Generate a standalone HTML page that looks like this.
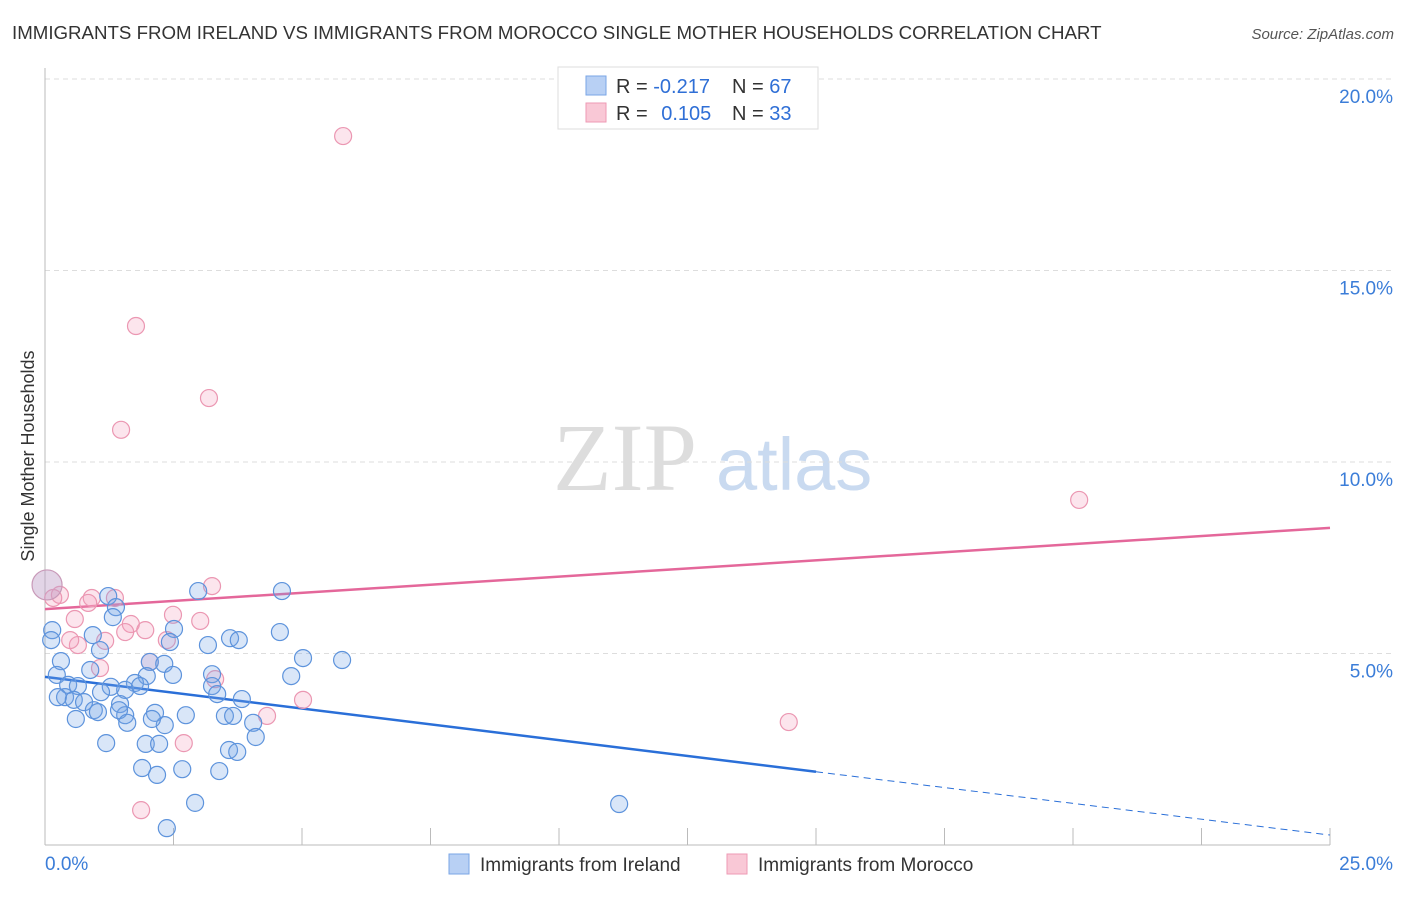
<!DOCTYPE html>
<html><head><meta charset="utf-8"><style>
body{margin:0;background:#fff;font-family:"Liberation Sans",sans-serif;}
svg text{font-family:"Liberation Sans",sans-serif;}
</style></head><body>
<svg width="1406" height="892" viewBox="0 0 1406 892" xmlns="http://www.w3.org/2000/svg">
<text x="12" y="39" font-size="18.7" fill="#333">IMMIGRANTS FROM IRELAND VS IMMIGRANTS FROM MOROCCO SINGLE MOTHER HOUSEHOLDS CORRELATION CHART</text>
<text x="1394" y="39" font-size="15" fill="#555" font-style="italic" text-anchor="end">Source: ZipAtlas.com</text>
<g>
<text x="553" y="490" font-size="96" fill="#ddd" style="font-family:'Liberation Serif',serif">ZIP</text>
<text x="716" y="490" font-size="74" fill="#c9daf0">atlas</text>
</g>
<g id="grid"></g>
<g id="axes"></g>
<g id="lines"></g>
<g id="pts"></g>
<text transform="translate(34,456) rotate(-90)" font-size="18" fill="#333" text-anchor="middle">Single Mother Households</text>
<g>
<rect x="558" y="67" width="260" height="62" fill="#fff" stroke="#ddd"/>
<rect x="586" y="76" width="20" height="19" fill="#b8d0f4" stroke="#7aa6e6"/>
<rect x="586" y="103" width="20" height="19" fill="#f9c8d6" stroke="#ee9ab4"/>
<text x="616" y="93" font-size="20" fill="#333">R = <tspan fill="#2f6fd6">-0.217</tspan></text>
<text x="732" y="93" font-size="20" fill="#333">N = <tspan fill="#2f6fd6">67</tspan></text>
<text x="616" y="120" font-size="20" fill="#333">R = <tspan fill="#2f6fd6" dx="8">0.105</tspan></text>
<text x="732" y="120" font-size="20" fill="#333">N = <tspan fill="#2f6fd6">33</tspan></text>
</g>
<g>
<rect x="449" y="854" width="20" height="20" fill="#b8d0f4" stroke="#7aa6e6"/>
<text x="480" y="871" font-size="19" fill="#333">Immigrants from Ireland</text>
<rect x="727" y="854" width="20" height="20" fill="#f9c8d6" stroke="#ee9ab4"/>
<text x="758" y="871" font-size="19" fill="#333">Immigrants from Morocco</text>
</g>
</svg>
<script>
const xTickLabels=["0.0%","25.0%"];
const yTicks=[5,10,15,20];
const yTickLabels=["5.0%","10.0%","15.0%","20.0%"];
const irelandX=[1.23,2.98,4.61,1.38,1.32,0.14,0.93,0.12,2.51,3.60,3.77,4.57,3.17,2.43,0.31,1.07,5.02,5.78,2.04,2.32,0.88,2.49,0.23,1.98,1.75,1.28,4.79,3.25,0.45,0.64,0.39,0.25,0.56,0.76,1.09,1.56,1.85,3.25,3.50,3.83,3.35,0.95,1.03,1.46,1.56,1.44,2.14,2.33,2.74,0.60,1.19,2.08,1.60,1.96,2.22,3.66,4.05,4.10,1.89,2.18,2.67,3.39,3.58,3.74,2.92,2.37,11.17];
const irelandY=[6.50,6.63,6.63,6.21,5.95,5.61,5.48,5.35,5.64,5.40,5.35,5.56,5.22,5.30,4.80,5.09,4.88,4.83,4.78,4.73,4.57,4.44,4.44,4.41,4.23,4.13,4.41,4.46,4.18,4.15,3.86,3.86,3.79,3.73,3.99,4.05,4.15,4.15,3.37,3.81,3.94,3.52,3.47,3.68,3.39,3.52,3.45,3.13,3.39,3.29,2.66,3.29,3.19,2.64,2.64,3.37,3.19,2.82,2.01,1.83,1.98,1.93,2.48,2.43,1.10,0.44,1.07];
const moroccoX=[5.80,1.77,3.19,1.48,20.12,3.25,0.91,1.36,0.29,0.16,0.84,0.58,2.49,3.02,1.67,1.95,1.56,2.37,1.17,0.64,0.49,1.07,2.04,3.31,5.02,4.32,14.47,2.70,1.87];
const moroccoY=[18.51,13.55,11.67,10.84,9.01,6.76,6.45,6.45,6.53,6.45,6.32,5.90,6.01,5.85,5.77,5.61,5.56,5.35,5.33,5.22,5.35,4.62,4.78,4.33,3.79,3.37,3.21,2.66,0.91];
const irelandTrend=[4.39,0.26];
const moroccoTrend=[6.16,8.28];
const NS="http://www.w3.org/2000/svg";
const X0=45,X1=1330,Y0=845,PXPER5=191.5;
const sx=v=>X0+(v/25)*(X1-X0);
const sy=v=>Y0-(v/5)*PXPER5;
function mk(tag,attrs,parent){const e=document.createElementNS(NS,tag);for(const k in attrs)e.setAttribute(k,attrs[k]);document.getElementById(parent).appendChild(e);return e;}
yTicks.forEach((t,i)=>{
 const g=mk('line',{x1:X0,x2:1394,y1:sy(t),y2:sy(t),stroke:'#ddd','stroke-dasharray':'5,4'},'grid');
 
 
 const l=mk('text',{x:1393,y:sy(t)+24,'font-size':19,fill:'#3b7dd8','text-anchor':'end'},'grid');
 l.textContent=yTickLabels[i];
 
 
});
const topGrid=mk('line',{x1:X0,x2:1394,y1:79,y2:79,stroke:'#ddd','stroke-dasharray':'5,4'},'grid');


const ya=mk('line',{x1:X0,x2:X0,y1:68,y2:Y0,stroke:'#bbb'},'axes');


const xa=mk('line',{x1:X0,x2:X1,y1:Y0,y2:Y0,stroke:'#bbb'},'axes');


for(let i=0;i<=10;i++){
 const t=mk('line',{x1:sx(i*2.5),x2:sx(i*2.5),y1:828,y2:Y0,stroke:'#bbb'},'axes');
 
 
}
const xl0=mk('text',{x:45,y:870,'font-size':19,fill:'#3b7dd8'},'axes');
xl0.textContent=xTickLabels[0];


const xl1=mk('text',{x:1393,y:870,'font-size':19,fill:'#3b7dd8','text-anchor':'end'},'axes');
xl1.textContent=xTickLabels[1];


moroccoX.forEach((x,i)=>{
 const c=mk('circle',{cx:sx(x),cy:sy(moroccoY[i]),r:8.5,fill:'rgba(244,160,190,0.28)',stroke:'#eb97b2','stroke-width':1.2},'pts');
 
 
});
irelandX.forEach((x,i)=>{
 const c=mk('circle',{cx:sx(x),cy:sy(irelandY[i]),r:8.5,fill:'rgba(120,165,230,0.28)',stroke:'#5d93dc','stroke-width':1.2},'pts');
 
 
});
const big=mk('circle',{cx:sx(0.04),cy:sy(6.79),r:15,fill:'rgba(190,160,200,0.45)',stroke:'#c899b8','stroke-width':1.2},'pts');


const iy=x=>irelandTrend[0]+(irelandTrend[1]-irelandTrend[0])*x/25;
const l1=mk('line',{x1:sx(0),y1:sy(iy(0)),x2:sx(15),y2:sy(iy(15)),stroke:'#2a6fd8','stroke-width':2.5},'lines');


const l2=mk('line',{x1:sx(15),y1:sy(iy(15)),x2:sx(25),y2:sy(iy(25)),stroke:'#2a6fd8','stroke-width':1,'stroke-dasharray':'7,5'},'lines');


const l3=mk('line',{x1:sx(0),y1:sy(moroccoTrend[0]),x2:sx(25),y2:sy(moroccoTrend[1]),stroke:'#e4679a','stroke-width':2.5},'lines');


</script>
</body></html>
